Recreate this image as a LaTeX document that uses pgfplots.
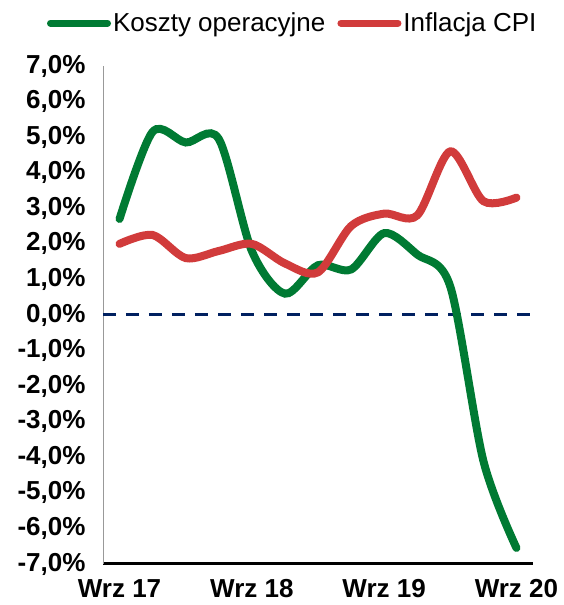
\documentclass[border=0pt]{standalone}
\usepackage{pgfplots}
\pgfplotsset{compat=1.18}
\usepackage{fontspec}
\setmainfont{Liberation Sans}
\definecolor{cgreen}{RGB}{0,122,51}
\definecolor{cred}{RGB}{209,59,59}
\definecolor{cnavy}{RGB}{0,32,96}
\begin{document}
\begin{tikzpicture}
\begin{axis}[
  scale only axis,
  width=430pt, height=498pt,
  xmin=-0.5, xmax=12.5,
  ymin=-7, ymax=7,
  axis lines=left,
  axis line style={-},
  x axis line style={black, line width=3pt},
  y axis line style={gray!80, line width=0.8pt},
  xtick={0,4,8,12},
  xticklabels={Wrz 17,Wrz 18,Wrz 19,Wrz 20},
  ytick={-7,-6,...,7},
  major tick length=0pt,
  /pgf/number format/assume math mode=true,
  yticklabel={\pgfmathprintnumber[fixed,fixed zerofill,precision=1,use comma]{\tick}\%},
  ticklabel style={font=\fontsize{26}{30}\selectfont\bfseries},
  yticklabel style={xshift=-14pt},
  xticklabel style={yshift=-12pt},
  clip=false,
  legend columns=2,
  legend style={draw=none, fill=none, at={(0.44,1.086)}, anchor=center,
    font=\fontsize{26}{30}\selectfont, column sep=1pt, inner sep=0pt,
    nodes={inner sep=1pt},
    /tikz/every even column/.append style={column sep=11pt}},
  legend image code/.code={\draw[#1, line cap=round, line width=7pt] (0pt,0pt) -- (57pt,0pt);},
]
\addplot[cnavy, line width=3pt, dash pattern=on 13pt off 10pt, forget plot] coordinates {(-0.5,0) (12.5,0)};
\addplot[cgreen, line width=8pt, smooth, tension=0.5, line cap=round] coordinates {
(0,2.7) (1,5.15) (2,4.85) (3,4.95) (4,1.8) (5,0.6) (6,1.4) (7,1.28) (8,2.3) (9,1.7) (10,0.8) (11,-4.1) (12,-6.55)};
\addlegendentry{Koszty operacyjne}
\addplot[cred, line width=8pt, smooth, tension=0.5, line cap=round] coordinates {
(0,2.0) (1,2.25) (2,1.6) (3,1.8) (4,2.0) (5,1.45) (6,1.2) (7,2.5) (8,2.85) (9,2.8) (10,4.6) (11,3.2) (12,3.3)};
\addlegendentry{Inflacja CPI}
\end{axis}
\path (current axis.south west) ++(-103pt,-41pt) rectangle ++(563pt,605pt);
\end{tikzpicture}
\end{document}
